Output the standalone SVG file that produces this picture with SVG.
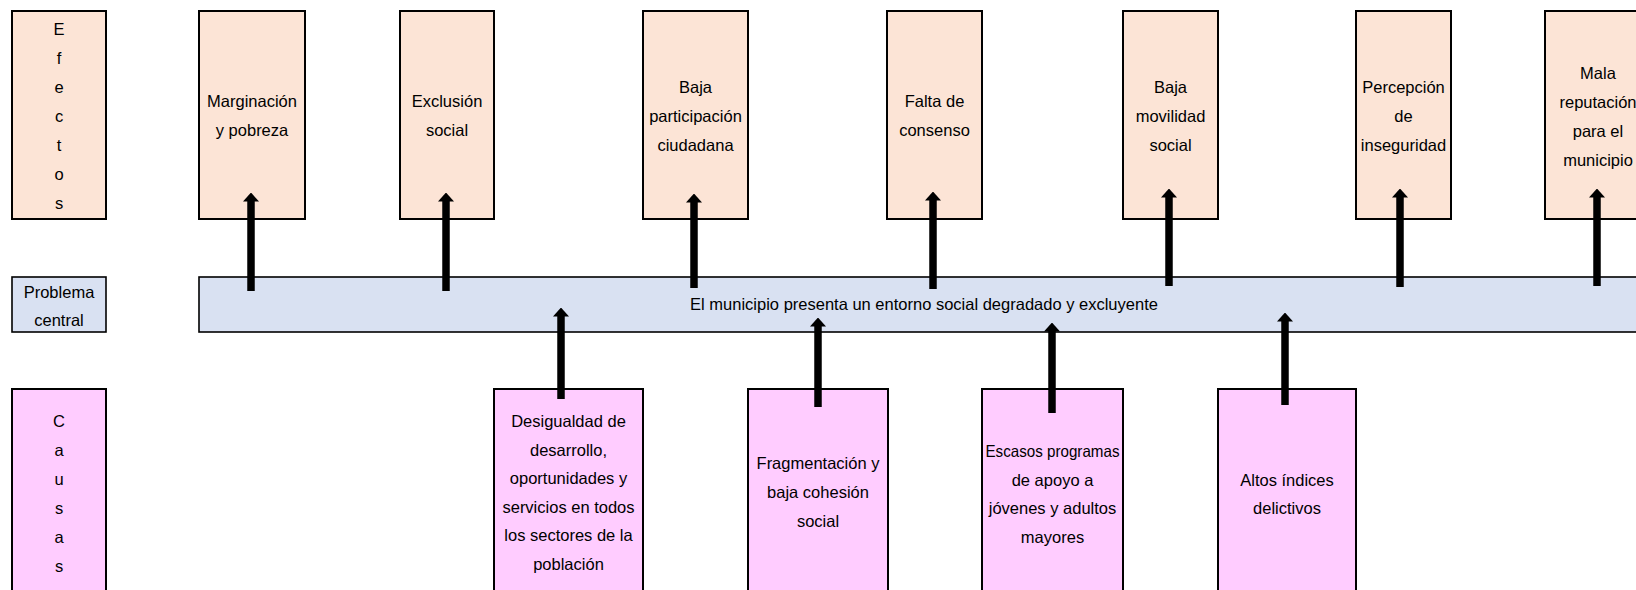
<svg xmlns="http://www.w3.org/2000/svg" width="1636" height="590" viewBox="0 0 1636 590">
<style>
.eff{fill:#FCE4D6;stroke:#000;stroke-width:2}
.cau{fill:#FFCCFF;stroke:#000;stroke-width:2}
.prob{fill:#D9E1F2;stroke:#000;stroke-width:1.6}
text{font-family:"Liberation Sans",Arial,sans-serif;font-size:16.5px;fill:#000;text-anchor:middle}
.conn line{stroke:#000;stroke-width:7.5;marker-end:url(#ah)}
</style>
<defs>
<marker id="ah" markerUnits="userSpaceOnUse" markerWidth="9" markerHeight="16" viewBox="0 0 9 16" refX="0.5" refY="8" orient="auto">
<path d="M0,0 L9,8 L0,16 z" fill="#000"/>
</marker>
</defs>
<rect width="1636" height="590" fill="#fff"/>

<g id="label-efectos">
<rect class="eff" x="12" y="11" width="94" height="208"/>
<text x="59"><tspan x="59" y="35">E</tspan><tspan x="59" y="64">f</tspan><tspan x="59" y="93">e</tspan><tspan x="59" y="122">c</tspan><tspan x="59" y="151">t</tspan><tspan x="59" y="180">o</tspan><tspan x="59" y="209">s</tspan></text>
</g>
<g id="label-problema">
<rect class="prob" x="12" y="277" width="94" height="55"/>
<text><tspan x="59" y="298">Problema</tspan><tspan x="59" y="326">central</tspan></text>
</g>
<g id="label-causas">
<rect class="cau" x="12" y="389" width="94" height="230"/>
<text><tspan x="59" y="427">C</tspan><tspan x="59" y="456">a</tspan><tspan x="59" y="485">u</tspan><tspan x="59" y="514">s</tspan><tspan x="59" y="543">a</tspan><tspan x="59" y="572">s</tspan></text>
</g>

<g id="problema-central">
<rect class="prob" x="199" y="277" width="1500" height="55"/>
<text x="924" y="310">El municipio presenta un entorno social degradado y excluyente</text>
</g>

<g id="efecto-marginacion">
<rect class="eff" x="199" y="11" width="106" height="208"/>
<text><tspan x="252" y="107">Marginación</tspan><tspan x="252" y="136">y pobreza</tspan></text>
</g>
<g id="efecto-exclusion">
<rect class="eff" x="400" y="11" width="94" height="208"/>
<text><tspan x="447" y="107">Exclusión</tspan><tspan x="447" y="136">social</tspan></text>
</g>
<g id="efecto-participacion">
<rect class="eff" x="643" y="11" width="105" height="208"/>
<text><tspan x="695.5" y="93">Baja</tspan><tspan x="695.5" y="122">participación</tspan><tspan x="695.5" y="151">ciudadana</tspan></text>
</g>
<g id="efecto-consenso">
<rect class="eff" x="887" y="11" width="95" height="208"/>
<text><tspan x="934.5" y="107">Falta de</tspan><tspan x="934.5" y="136">consenso</tspan></text>
</g>
<g id="efecto-movilidad">
<rect class="eff" x="1123" y="11" width="95" height="208"/>
<text><tspan x="1170.5" y="93">Baja</tspan><tspan x="1170.5" y="122">movilidad</tspan><tspan x="1170.5" y="151">social</tspan></text>
</g>
<g id="efecto-inseguridad">
<rect class="eff" x="1356" y="11" width="95" height="208"/>
<text><tspan x="1403.5" y="93">Percepción</tspan><tspan x="1403.5" y="122">de</tspan><tspan x="1403.5" y="151">inseguridad</tspan></text>
</g>
<g id="efecto-reputacion">
<rect class="eff" x="1545" y="11" width="106" height="208"/>
<text><tspan x="1598" y="79">Mala</tspan><tspan x="1598" y="108">reputación</tspan><tspan x="1598" y="137">para el</tspan><tspan x="1598" y="166">municipio</tspan></text>
</g>

<g id="causa-desigualdad">
<rect class="cau" x="494" y="389" width="149" height="230"/>
<text><tspan x="568.5" y="427">Desigualdad de</tspan><tspan x="568.5" y="455.5">desarrollo,</tspan><tspan x="568.5" y="484">oportunidades y</tspan><tspan x="568.5" y="512.5">servicios en todos</tspan><tspan x="568.5" y="541">los sectores de la</tspan><tspan x="568.5" y="569.5">población</tspan></text>
</g>
<g id="causa-fragmentacion">
<rect class="cau" x="748" y="389" width="140" height="230"/>
<text><tspan x="818" y="469">Fragmentación y</tspan><tspan x="818" y="498">baja cohesión</tspan><tspan x="818" y="527">social</tspan></text>
</g>
<g id="causa-programas">
<rect class="cau" x="982" y="389" width="141" height="230"/>
<text><tspan x="1052.5" y="457" textLength="134" lengthAdjust="spacingAndGlyphs">Escasos programas</tspan><tspan x="1052.5" y="486">de apoyo a</tspan><tspan x="1052.5" y="514">jóvenes y adultos</tspan><tspan x="1052.5" y="543">mayores</tspan></text>
</g>
<g id="causa-delictivos">
<rect class="cau" x="1218" y="389" width="138" height="230"/>
<text><tspan x="1287" y="486">Altos índices</tspan><tspan x="1287" y="514">delictivos</tspan></text>
</g>

<g id="connectors" class="conn">
<line x1="251" y1="291" x2="251" y2="201"/>
<line x1="446" y1="291" x2="446" y2="201"/>
<line x1="694" y1="288" x2="694" y2="202"/>
<line x1="933" y1="289" x2="933" y2="200"/>
<line x1="1169" y1="286" x2="1169" y2="197"/>
<line x1="1400" y1="287" x2="1400" y2="197"/>
<line x1="1597" y1="286" x2="1597" y2="197"/>
<line x1="561" y1="399" x2="561" y2="316"/>
<line x1="818" y1="407" x2="818" y2="326"/>
<line x1="1052" y1="413" x2="1052" y2="331"/>
<line x1="1285" y1="405" x2="1285" y2="321"/>
</g>
</svg>
